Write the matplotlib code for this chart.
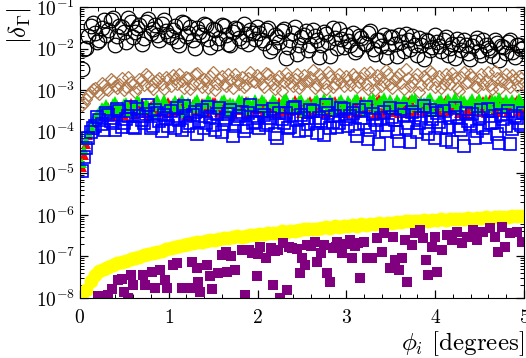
import numpy as np
import matplotlib
matplotlib.use('Agg')
import matplotlib.pyplot as plt
from matplotlib.ticker import MultipleLocator, LogLocator, NullFormatter

plt.rcParams['mathtext.fontset'] = 'cm'
plt.rcParams['font.family'] = 'serif'
plt.rcParams['font.serif'] = ['cmr10']
plt.rcParams['axes.formatter.use_mathtext'] = True

# angle grids (degrees): main grid and the interleaved one
phi = [0.02, 0.07, 0.12, 0.17, 0.22, 0.27, 0.32, 0.37, 0.42, 0.47,
       0.52, 0.57, 0.62, 0.67, 0.72, 0.77, 0.82, 0.87, 0.92, 0.97,
       1.02, 1.07, 1.12, 1.17, 1.22, 1.27, 1.32, 1.37, 1.42, 1.47,
       1.52, 1.57, 1.62, 1.67, 1.72, 1.77, 1.82, 1.87, 1.92, 1.97,
       2.02, 2.07, 2.12, 2.17, 2.22, 2.27, 2.32, 2.37, 2.42, 2.47,
       2.52, 2.57, 2.62, 2.67, 2.72, 2.77, 2.82, 2.87, 2.92, 2.97,
       3.02, 3.07, 3.12, 3.17, 3.22, 3.27, 3.32, 3.37, 3.42, 3.47,
       3.52, 3.57, 3.62, 3.67, 3.72, 3.77, 3.82, 3.87, 3.92, 3.97,
       4.02, 4.07, 4.12, 4.17, 4.22, 4.27, 4.32, 4.37, 4.42, 4.47,
       4.52, 4.57, 4.62, 4.67, 4.72, 4.77, 4.82, 4.87, 4.92, 4.97]
phi_b = [0.045, 0.095, 0.145, 0.195, 0.245, 0.295, 0.345, 0.395, 0.445, 0.495,
         0.545, 0.595, 0.645, 0.695, 0.745, 0.795, 0.845, 0.895, 0.945, 0.995,
         1.045, 1.095, 1.145, 1.195, 1.245, 1.295, 1.345, 1.395, 1.445, 1.495,
         1.545, 1.595, 1.645, 1.695, 1.745, 1.795, 1.845, 1.895, 1.945, 1.995,
         2.045, 2.095, 2.145, 2.195, 2.245, 2.295, 2.345, 2.395, 2.445, 2.495,
         2.545, 2.595, 2.645, 2.695, 2.745, 2.795, 2.845, 2.895, 2.945, 2.995,
         3.045, 3.095, 3.145, 3.195, 3.245, 3.295, 3.345, 3.395, 3.445, 3.495,
         3.545, 3.595, 3.645, 3.695, 3.745, 3.795, 3.845, 3.895, 3.945, 3.995,
         4.045, 4.095, 4.145, 4.195, 4.245, 4.295, 4.345, 4.395, 4.445, 4.495,
         4.545, 4.595, 4.645, 4.695, 4.745, 4.795, 4.845, 4.895, 4.945, 4.995]

# log10 |delta_Gamma|
black_log = [-2.50, -1.99, -1.45, -1.62, -1.78, -1.30, -1.55, -1.25, -1.70, -1.48,
             -1.85, -1.35, -1.60, -1.42, -1.75, -1.28, -1.52, -1.66, -1.40, -1.58,
             -1.72, -1.45, -1.90, -1.38, -1.62, -1.80, -1.50, -1.68, -1.42, -1.95,
             -1.55, -1.74, -1.46, -1.88, -1.60, -1.52, -1.82, -1.65, -1.56, -1.76,
             -1.62, -1.86, -1.50, -1.96, -1.72, -1.58, -2.22, -1.80, -1.48, -1.92,
             -1.66, -2.02, -1.55, -1.78, -1.90, -1.64, -2.18, -1.74, -1.52, -1.95,
             -1.82, -1.62, -2.00, -1.74, -1.88, -1.58, -2.12, -1.80, -1.68, -1.95,
             -1.72, -2.18, -1.84, -1.64, -2.00, -1.90, -1.75, -2.25, -1.82, -1.96,
             -1.85, -2.05, -1.72, -1.98, -2.22, -1.88, -1.78, -2.10, -1.94, -1.75,
             -2.15, -1.90, -2.02, -1.80, -2.28, -1.96, -1.85, -2.08, -1.92, -2.00]
black_log_b = [-2.00, -1.70, -1.38, -1.85, -1.50, -1.66, -1.32, -1.92, -1.45, -1.60,
               -1.26, -1.72, -1.50, -1.88, -1.36, -1.62, -1.44, -1.80, -1.30, -1.68,
               -1.55, -1.82, -1.36, -1.70, -1.48, -1.98, -1.60, -1.40, -1.76, -1.52,
               -1.86, -1.44, -1.66, -1.92, -1.50, -1.74, -1.40, -1.88, -1.62, -1.48,
               -1.78, -1.55, -2.05, -1.68, -1.85, -1.52, -1.95, -1.62, -2.12, -1.72,
               -1.58, -1.90, -1.70, -2.20, -1.60, -1.84, -1.50, -1.98, -1.76, -1.66,
               -1.92, -2.08, -1.70, -1.86, -1.62, -2.00, -1.78, -1.94, -2.20, -1.72,
               -1.88, -1.66, -2.06, -1.80, -1.70, -2.14, -1.92, -1.78, -2.04, -1.68,
               -1.94, -1.80, -2.16, -1.88, -1.76, -2.02, -1.92, -2.24, -1.84, -2.06,
               -1.78, -1.98, -2.18, -1.86, -1.94, -2.10, -1.80, -2.20, -1.90, -1.98]

brown_log = [-3.35, -3.20, -3.05, -2.95, -3.10, -2.88, -3.00, -2.78, -2.95, -2.70,
             -2.92, -2.80, -3.05, -2.72, -2.88, -2.65, -2.98, -2.76, -2.85, -2.68,
             -2.90, -2.74, -2.60, -2.95, -2.70, -2.84, -2.58, -2.92, -2.78, -2.66,
             -3.00, -2.72, -2.86, -2.62, -2.95, -2.75, -2.68, -2.88, -2.55, -2.80,
             -2.70, -2.92, -2.62, -2.85, -2.76, -3.02, -2.58, -2.82, -2.72, -2.95,
             -2.64, -2.78, -2.52, -2.88, -2.74, -2.98, -2.66, -2.84, -2.60, -2.90,
             -2.75, -2.62, -2.92, -2.70, -2.85, -2.55, -3.00, -2.72, -2.80, -2.60,
             -2.95, -2.68, -2.82, -2.50, -2.90, -2.74, -3.05, -2.65, -2.86, -2.58,
             -2.78, -2.95, -2.62, -2.84, -2.70, -3.02, -2.56, -2.80, -2.68, -2.92,
             -2.60, -2.76, -2.88, -2.54, -2.98, -2.72, -2.82, -2.64, -2.90, -2.70]
brown_log_b = [-3.30, -3.12, -2.98, -3.05, -2.82, -2.96, -2.74, -2.90, -2.84, -3.00,
               -2.68, -2.86, -2.94, -2.76, -2.62, -2.90, -2.80, -2.70, -2.96, -2.74,
               -2.64, -2.86, -2.78, -2.68, -2.98, -2.60, -2.82, -2.72, -2.94, -2.56,
               -2.84, -2.66, -2.90, -2.76, -2.62, -2.86, -2.92, -2.70, -2.78, -2.64,
               -2.84, -2.58, -2.76, -2.96, -2.66, -2.80, -2.70, -2.90, -2.60, -2.86,
               -2.78, -2.68, -2.94, -2.62, -2.82, -2.56, -2.92, -2.72, -2.80, -2.66,
               -2.88, -2.68, -2.80, -2.58, -2.96, -2.72, -2.64, -2.90, -2.52, -2.84,
               -2.76, -2.62, -2.98, -2.70, -2.80, -2.60, -2.88, -2.74, -2.54, -2.92,
               -2.66, -2.86, -2.74, -2.58, -2.94, -2.68, -2.82, -2.62, -2.90, -2.72,
               -2.84, -2.56, -2.96, -2.70, -2.78, -2.60, -2.92, -2.74, -2.66, -2.84]

green_log = [-4.75, -4.20, -3.85, -3.65, -3.50, -3.42, -3.55, -3.30, -3.48, -3.38,
             -3.28, -3.52, -3.40, -3.25, -3.45, -3.35, -3.58, -3.22, -3.42, -3.32,
             -3.45, -3.24, -3.38, -3.55, -3.28, -3.42, -3.20, -3.50, -3.34, -3.26,
             -3.46, -3.36, -3.22, -3.52, -3.30, -3.40, -3.24, -3.48, -3.32, -3.20,
             -3.38, -3.26, -3.50, -3.22, -3.44, -3.30, -3.18, -3.46, -3.34, -3.24,
             -3.52, -3.28, -3.40, -3.20, -3.45, -3.32, -3.22, -3.48, -3.26, -3.36,
             -3.24, -3.42, -3.18, -3.35, -3.50, -3.22, -3.40, -3.28, -3.16, -3.44,
             -3.30, -3.20, -3.46, -3.25, -3.38, -3.18, -3.42, -3.28, -3.22, -3.48,
             -3.30, -3.20, -3.44, -3.26, -3.16, -3.40, -3.24, -3.34, -3.18, -3.46,
             -3.28, -3.20, -3.38, -3.24, -3.16, -3.42, -3.30, -3.22, -3.36, -3.26]
green_log_b = [-4.45, -4.00, -3.72, -3.58, -3.40, -3.34, -3.46, -3.26, -3.42, -3.30,
               -3.50, -3.36, -3.24, -3.44, -3.30, -3.48, -3.28, -3.38, -3.22, -3.46,
               -3.30, -3.40, -3.22, -3.48, -3.36, -3.26, -3.44, -3.30, -3.20, -3.42,
               -3.34, -3.24, -3.46, -3.28, -3.38, -3.20, -3.44, -3.26, -3.40, -3.30,
               -3.22, -3.44, -3.32, -3.26, -3.40, -3.20, -3.36, -3.28, -3.46, -3.22,
               -3.34, -3.42, -3.24, -3.30, -3.18, -3.44, -3.28, -3.36, -3.20, -3.40,
               -3.30, -3.20, -3.46, -3.26, -3.36, -3.18, -3.42, -3.24, -3.32, -3.20,
               -3.40, -3.28, -3.22, -3.44, -3.18, -3.34, -3.26, -3.40, -3.16, -3.32,
               -3.24, -3.38, -3.18, -3.30, -3.42, -3.20, -3.34, -3.26, -3.40, -3.18,
               -3.32, -3.44, -3.22, -3.30, -3.38, -3.20, -3.28, -3.40, -3.18, -3.32]

red_log = [-4.85, -4.30, -3.95, -3.72, -3.58, -3.48, -3.40, -3.62, -3.35, -3.52,
           -3.44, -3.30, -3.58, -3.46, -3.38, -3.60, -3.32, -3.50, -3.42, -3.55,
           -3.36, -3.50, -3.28, -3.46, -3.60, -3.34, -3.48, -3.30, -3.56, -3.40,
           -3.28, -3.52, -3.44, -3.32, -3.58, -3.36, -3.48, -3.26, -3.54, -3.42,
           -3.30, -3.52, -3.38, -3.26, -3.56, -3.44, -3.32, -3.50, -3.24, -3.46,
           -3.36, -3.58, -3.30, -3.48, -3.28, -3.54, -3.40, -3.26, -3.50, -3.34,
           -3.46, -3.30, -3.54, -3.26, -3.42, -3.32, -3.58, -3.22, -3.44, -3.36,
           -3.52, -3.28, -3.40, -3.56, -3.24, -3.48, -3.34, -3.50, -3.26, -3.42,
           -3.38, -3.52, -3.24, -3.46, -3.30, -3.56, -3.28, -3.42, -3.50, -3.26,
           -3.40, -3.54, -3.22, -3.48, -3.34, -3.28, -3.52, -3.40, -3.24, -3.46]
red_log_b = [-4.55, -4.08, -3.80, -3.62, -3.50, -3.40, -3.56, -3.34, -3.48, -3.60,
             -3.36, -3.52, -3.42, -3.30, -3.56, -3.38, -3.50, -3.34, -3.46, -3.28,
             -3.52, -3.40, -3.32, -3.58, -3.44, -3.30, -3.50, -3.38, -3.54, -3.28,
             -3.46, -3.36, -3.56, -3.32, -3.48, -3.40, -3.30, -3.52, -3.36, -3.46,
             -3.42, -3.32, -3.54, -3.40, -3.28, -3.50, -3.36, -3.46, -3.30, -3.56,
             -3.38, -3.26, -3.48, -3.42, -3.32, -3.52, -3.28, -3.44, -3.36, -3.54,
             -3.34, -3.48, -3.28, -3.50, -3.38, -3.44, -3.26, -3.52, -3.34, -3.46,
             -3.30, -3.54, -3.40, -3.28, -3.50, -3.36, -3.44, -3.30, -3.52, -3.38,
             -3.46, -3.30, -3.50, -3.36, -3.42, -3.28, -3.54, -3.38, -3.32, -3.48,
             -3.26, -3.44, -3.36, -3.52, -3.30, -3.46, -3.38, -3.28, -3.50, -3.34]

blue_log = [-4.95, -4.40, -4.00, -3.85, -3.72, -3.95, -3.60, -3.80, -3.45, -3.88,
            -3.70, -3.40, -3.92, -3.62, -3.78, -3.35, -3.85, -3.55, -3.98, -3.68,
            -3.50, -3.90, -3.72, -3.38, -3.85, -3.60, -4.05, -3.48, -3.78, -3.65,
            -3.95, -3.42, -3.82, -3.58, -4.10, -3.70, -3.52, -3.88, -3.36, -3.76,
            -3.92, -3.60, -3.80, -3.45, -4.15, -3.70, -3.55, -3.88, -3.40, -3.98,
            -3.66, -3.82, -3.50, -4.02, -3.74, -3.35, -3.90, -3.62, -3.78, -3.46,
            -3.86, -3.56, -4.10, -3.68, -3.40, -3.95, -3.72, -4.30, -3.52, -3.84,
            -3.64, -4.00, -3.45, -3.90, -4.25, -3.60, -3.78, -3.38, -4.05, -3.70,
            -3.55, -3.92, -4.20, -3.66, -3.42, -3.85, -4.35, -3.74, -3.58, -3.98,
            -3.48, -4.12, -3.80, -3.62, -4.28, -3.70, -3.50, -3.94, -3.66, -3.84]
blue_log_b = [-4.60, -4.15, -3.90, -3.65, -3.82, -3.55, -3.75, -3.95, -3.50, -3.80,
              -3.62, -3.88, -3.45, -3.72, -3.58, -3.92, -3.48, -3.75, -3.60, -3.85,
              -3.70, -3.44, -3.95, -3.62, -3.80, -3.52, -3.74, -3.90, -3.40, -3.84,
              -3.58, -4.00, -3.68, -3.48, -3.86, -3.62, -3.98, -3.55, -3.80, -3.66,
              -3.50, -3.84, -3.68, -4.05, -3.56, -3.78, -3.92, -3.42, -3.72, -3.60,
              -3.96, -3.48, -3.80, -3.66, -4.08, -3.54, -3.76, -3.88, -3.44, -3.70,
              -3.62, -3.94, -3.48, -3.78, -4.18, -3.58, -3.84, -3.66, -3.98, -3.44,
              -3.72, -4.22, -3.60, -3.80, -3.52, -4.00, -3.68, -3.90, -3.48, -4.14,
              -3.76, -3.50, -3.88, -4.24, -3.64, -3.96, -3.54, -3.82, -4.16, -3.68,
              -3.90, -3.46, -3.78, -4.06, -3.60, -3.86, -4.30, -3.62, -3.80, -3.56]

yellow_log = [-8.10, -7.80, -7.60, -7.45, -7.36, -7.30, -7.25, -7.21, -7.17, -7.13,
              -7.11, -7.07, -7.04, -7.02, -6.98, -6.95, -6.92, -6.89, -6.86, -6.82,
              -6.79, -6.78, -6.74, -6.73, -6.70, -6.68, -6.66, -6.65, -6.62, -6.60,
              -6.61, -6.58, -6.56, -6.56, -6.54, -6.52, -6.53, -6.50, -6.49, -6.49,
              -6.47, -6.47, -6.44, -6.43, -6.43, -6.40, -6.41, -6.38, -6.38, -6.36,
              -6.35, -6.35, -6.33, -6.33, -6.31, -6.30, -6.31, -6.28, -6.29, -6.27,
              -6.27, -6.25, -6.26, -6.23, -6.24, -6.22, -6.23, -6.20, -6.21, -6.19,
              -6.19, -6.17, -6.18, -6.16, -6.16, -6.14, -6.15, -6.13, -6.14, -6.12,
              -6.13, -6.11, -6.12, -6.10, -6.11, -6.09, -6.10, -6.08, -6.09, -6.07,
              -6.08, -6.06, -6.07, -6.05, -6.06, -6.05, -6.05, -6.04, -6.04, -6.03]

purple_phi = [0.20, 0.32, 0.36, 0.43, 0.47, 0.50, 0.54, 0.58, 0.60, 0.71,
              0.73, 0.81, 0.85, 0.90, 0.96, 0.98, 1.05, 1.09, 1.15, 1.24,
              1.26, 1.32, 1.33, 1.35, 1.43, 1.46, 1.49, 1.55, 1.60, 1.64,
              1.66, 1.70, 1.75, 1.82, 1.86, 1.90, 1.94, 1.99, 2.00, 2.03,
              2.10, 2.15, 2.17, 2.20, 2.23, 2.25, 2.29, 2.33, 2.35, 2.39,
              2.45, 2.48, 2.50, 2.53, 2.56, 2.60, 2.65, 2.67, 2.72, 2.75,
              2.78, 2.82, 2.85, 2.88, 2.90, 2.95, 3.00, 3.04, 3.06, 3.10,
              3.13, 3.15, 3.20, 3.23, 3.29, 3.34, 3.40, 3.43, 3.49, 3.53,
              3.55, 3.59, 3.63, 3.66, 3.68, 3.74, 3.77, 3.83, 3.86, 3.90,
              3.92, 3.96, 4.00, 4.02, 4.08, 4.13, 4.19, 4.25, 4.30, 4.36,
              4.43, 4.47, 4.54, 4.62, 4.67, 4.71, 4.75, 4.79, 4.84, 4.92,
              4.98]
purple_log = [-7.95, -7.92, -7.78, -7.58, -7.54, -7.87, -8.00, -7.44, -7.68, -7.44,
              -7.68, -7.37, -7.76, -7.32, -7.56, -7.76, -7.20, -7.15, -7.76, -7.76,
              -7.13, -7.27, -7.63, -7.87, -7.20, -7.47, -7.78, -7.40, -6.96, -6.90,
              -7.37, -7.00, -7.32, -6.84, -7.92, -6.85, -6.91, -7.47, -6.95, -6.77,
              -7.03, -6.80, -7.68, -6.88, -6.84, -8.00, -6.67, -7.80, -6.78, -6.80,
              -6.82, -7.40, -7.03, -7.20, -6.72, -6.75, -6.65, -7.13, -6.91, -6.72,
              -7.40, -7.61, -6.80, -6.78, -6.65, -6.91, -6.70, -6.60, -7.03, -6.75,
              -6.67, -7.51, -6.65, -7.03, -7.03, -6.56, -6.89, -6.43, -7.27, -6.53,
              -7.08, -7.32, -7.03, -6.60, -7.63, -6.72, -6.43, -6.36, -6.56, -7.08,
              -7.44, -6.77, -6.53, -7.37, -6.84, -6.48, -6.60, -6.41, -6.67, -6.53,
              -6.36, -6.60, -6.41, -6.31, -6.53, -6.89, -6.29, -6.77, -6.43, -6.41,
              -6.65]

phi_all = phi + phi_b


def pw(a, b=None):
    vals = a if b is None else a + b
    return 10.0 ** np.array(vals)


fig = plt.figure(figsize=(5.26, 3.58), dpi=100)
ax = fig.add_axes([0.152, 0.168, 0.844, 0.812])

ax.plot(phi_all, pw(black_log, black_log_b), 'o', mfc='none', mec='black', ms=10.5, mew=0.9)
ax.plot(phi_all, pw(brown_log, brown_log_b), 'D', mfc='none', mec='#b07a4c', ms=6.2, mew=0.9)
ax.plot(phi_all, pw(red_log, red_log_b), '^', color='red', ms=6.5, mew=0)
ax.plot(phi_all, pw(green_log, green_log_b), '^', color='#00ee00', ms=6.5, mew=0)
ax.plot(phi_all, pw(blue_log, blue_log_b), 's', mfc='none', mec='blue', ms=8, mew=1.2)
ax.plot(phi, pw(yellow_log), 'o', color='yellow', ms=10, mew=0)
ax.plot(purple_phi, pw(purple_log), 's', color='purple', ms=6.5, mew=0)

ax.set_yscale('log')
ax.set_xlim(0, 5)
ax.set_ylim(1e-8, 1e-1)
ax.xaxis.set_major_locator(MultipleLocator(1))
ax.xaxis.set_minor_locator(MultipleLocator(0.2))
ax.yaxis.set_major_locator(LogLocator(base=10, numticks=20))
ax.yaxis.set_minor_locator(LogLocator(base=10, subs=np.arange(2, 10), numticks=20))
ax.yaxis.set_minor_formatter(NullFormatter())
ax.tick_params(which='both', direction='in', top=True, right=True, labelsize=14)
ax.tick_params(which='major', length=6, width=0.9)
ax.tick_params(which='minor', length=3, width=0.7)
ax.tick_params(axis='x', pad=8)

ax.set_xlabel(r'$\phi_i$ [degrees]', fontsize=18, loc='right', labelpad=2)
ax.set_ylabel(r'$|\delta_\Gamma|$', fontsize=18, loc='top', labelpad=2)

fig.savefig('out.png', dpi=100)
